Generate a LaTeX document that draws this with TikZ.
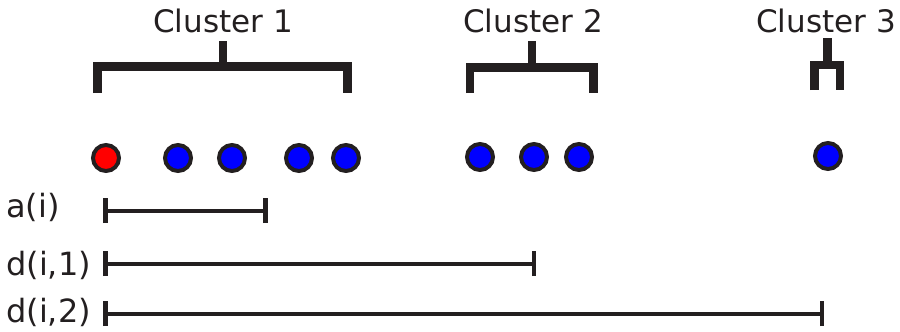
\documentclass[tikz,border=0pt]{standalone}
\usepackage{fontspec}
\setmainfont{DejaVu Sans}
\definecolor{ink}{HTML}{231F20}
\definecolor{dotred}{HTML}{FF0000}
\definecolor{dotblue}{HTML}{0000FF}
\begin{document}
\begin{tikzpicture}[x=1pt,y=-1pt,
  dot/.style={circle, draw=ink, line width=4pt, minimum size=26pt, inner sep=0pt},
  bracket/.style={draw=ink, line width=8.5pt, line cap=butt, line join=miter},
  measure/.style={draw=ink, line width=4pt},
  tick/.style={draw=ink, line width=4.5pt},
  clbl/.style={font=\fontsize{31}{36}\selectfont, text=ink, inner sep=0pt, anchor=base},
  mlbl/.style={font=\fontsize{32}{36}\selectfont, text=ink, inner sep=0pt, anchor=base west}]
\useasboundingbox (0,0) rectangle (900,332);

% cluster labels
\node[clbl] (c1) at (223,32) {Cluster 1};
\node[clbl] (c2) at (533,32) {Cluster 2};
\node[clbl] (c3) at (826,32) {Cluster 3};

% brackets
\draw[bracket] (97.5,93) -- (97.5,66.5) -- (347.5,66.5) -- (347.5,93);
\draw[bracket] (223,66.5) -- (223,40.5);
\draw[bracket] (470,93) -- (470,67.5) -- (593.5,67.5) -- (593.5,93);
\draw[bracket] (532,67.5) -- (532,41);
\draw[bracket] (814.5,90) -- (814.5,65) -- (840,65) -- (840,90);
\draw[bracket] (827.5,65) -- (827.5,38);

% points
\node[dot, fill=dotred] (p0) at (106,158) {};
\node[dot, fill=dotblue] (p1) at (178,158) {};
\node[dot, fill=dotblue] (p2) at (232,158) {};
\node[dot, fill=dotblue] (p3) at (299,158) {};
\node[dot, fill=dotblue] (p4) at (346,158) {};
\node[dot, fill=dotblue] (q1) at (480,157) {};
\node[dot, fill=dotblue] (q2) at (534,157) {};
\node[dot, fill=dotblue] (q3) at (579,157) {};
\node[dot, fill=dotblue] (r1) at (828,156) {};

% measures
\node[mlbl] (la) at (6,217) {a(i)};
\node[mlbl] (l1) at (6,275) {d(i,1)};
\node[mlbl] (l2) at (6,322) {d(i,2)};

\coordinate (a0) at (105.5,210.5);
\coordinate (a1) at (265.5,210.5);
\coordinate (b0) at (105.5,263.5);
\coordinate (b1) at (534,263.5);
\coordinate (d0) at (105.5,313.5);
\coordinate (d1) at (822,313.5);

\draw[measure] (a0) -- (a1);
\draw[measure] (b0) -- (b1);
\draw[measure] (d0) -- (d1);
\foreach \p in {a0,a1,b0,b1,d0,d1}
  \draw[tick] ([yshift=-12.5pt]\p) -- ([yshift=12.5pt]\p);
\end{tikzpicture}
\end{document}
